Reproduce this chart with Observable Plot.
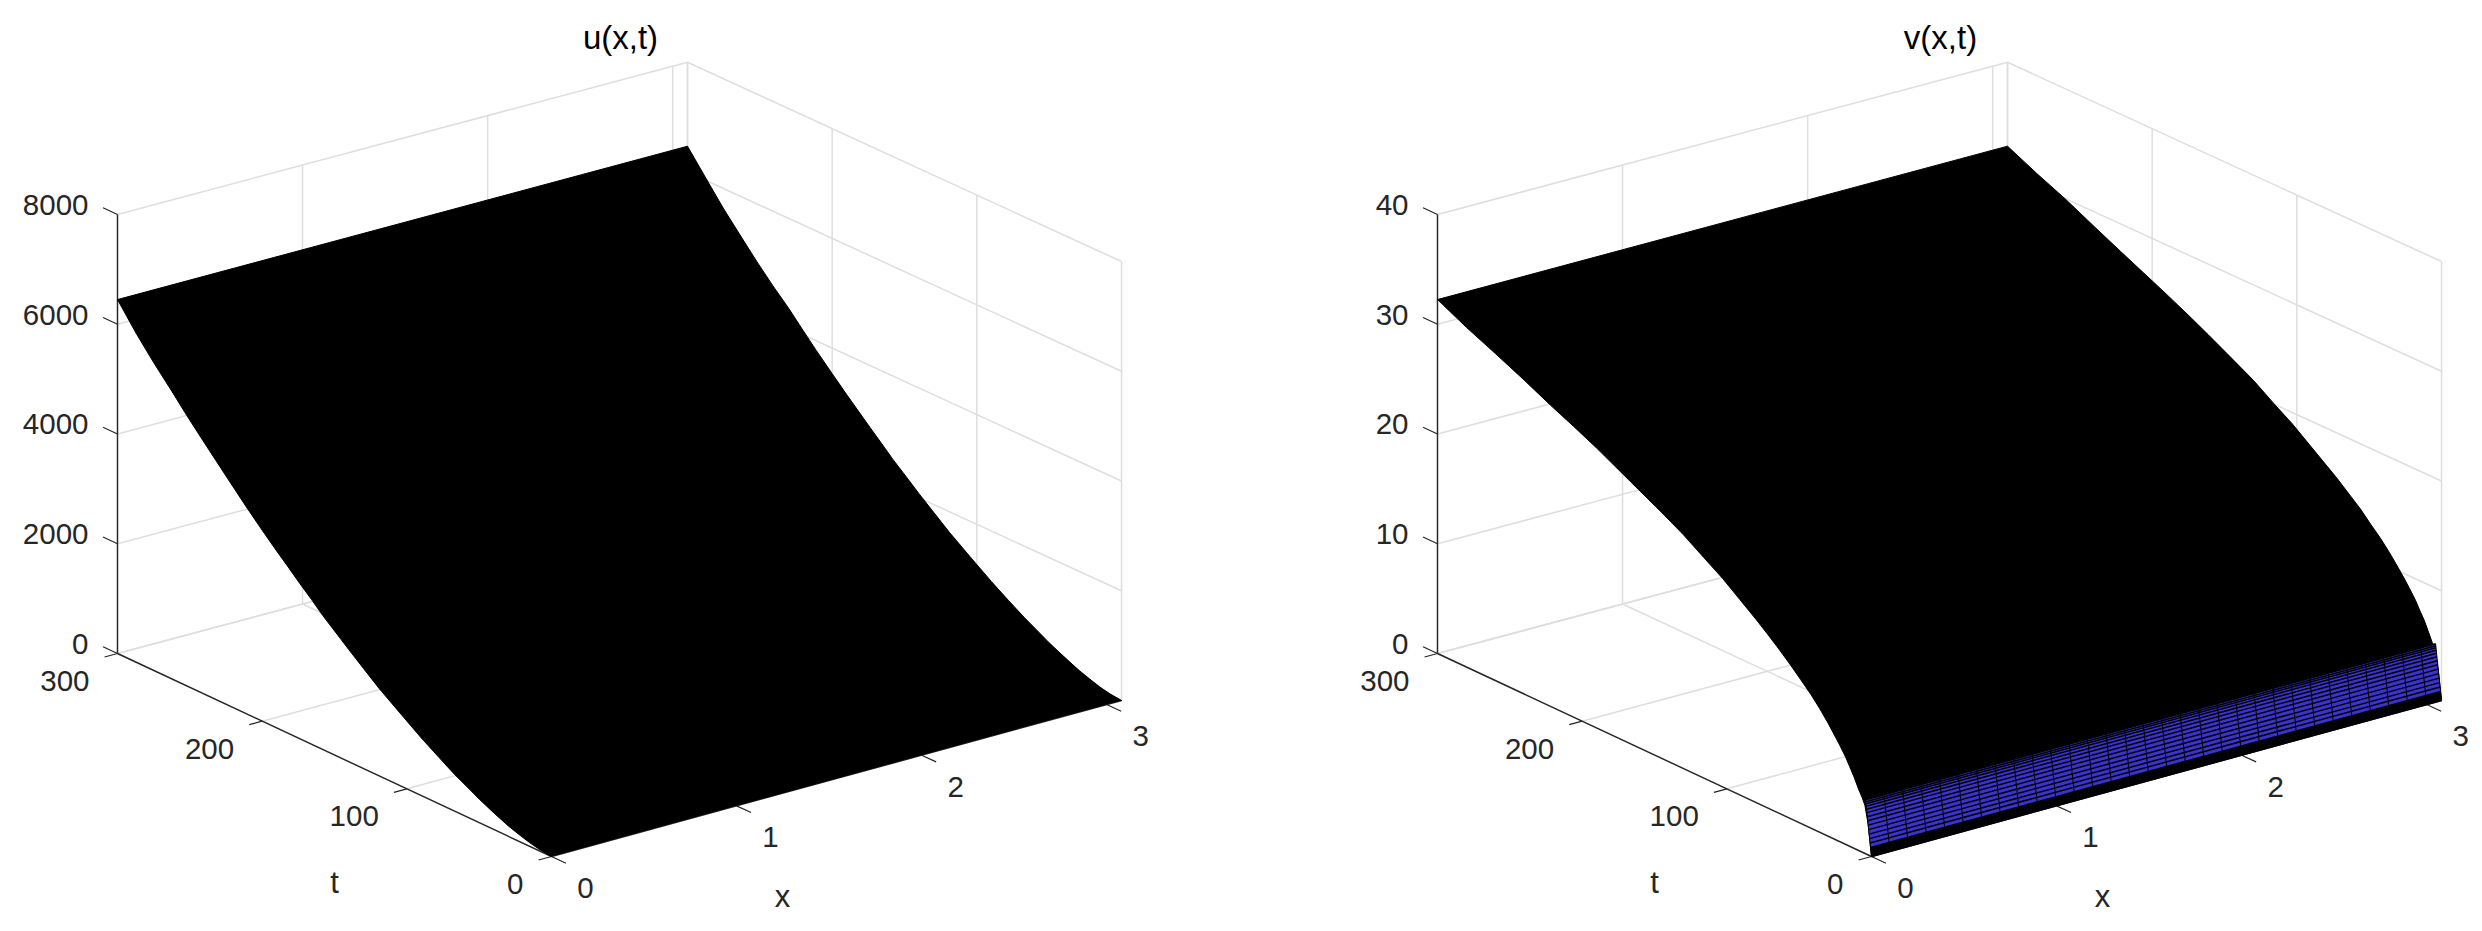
<!DOCTYPE html>
<html>
<head>
<meta charset="utf-8">
<script src="https://cdn.jsdelivr.net/npm/d3@7"></script>
<script src="https://cdn.jsdelivr.net/npm/@observablehq/plot@0.6"></script>
<style>html,body{margin:0;padding:0;background:#fff;overflow:hidden}svg{display:block}</style>
</head>
<body>
<div id="chart"></div>
<script>
// --- values ---
const titles = ["u(x,t)", "v(x,t)"];
const xTicks = [0, 1, 2, 3];
const tTicks = [0, 100, 200, 300];
const uTicks = [0, 2000, 4000, 6000, 8000];
const vTicks = [0, 10, 20, 30, 40];
const xMax = 3.08, tMax = 300, uMax = 8000, vMax = 40;

// u along the edge x = 0 and along the far edge x = xMax
const uTimes = [0, 8, 15, 22, 30, 40, 50, 58, 67, 78, 90, 104, 119, 130, 140, 149, 158, 166, 174, 182, 190, 200, 211, 220, 230, 241, 252, 263, 275, 287, 300];
const uAtX0 = [0, 25, 65, 120, 190, 305, 430, 545, 670, 850, 1050, 1310, 1590, 1825, 2040, 2240, 2440, 2640, 2830, 3030, 3225, 3480, 3770, 4020, 4300, 4610, 4925, 5260, 5610, 5990, 6450];
const uAtXEnd = [0, 25, 65, 125, 200, 320, 445, 565, 695, 875, 1080, 1340, 1625, 1860, 2075, 2280, 2480, 2680, 2875, 3075, 3275, 3535, 3825, 4075, 4360, 4640, 4945, 5270, 5630, 6030, 6469];

// v along the same two edges
const vTimes = [0, 1.1, 2.3, 4.6, 6.4, 9, 12, 15, 18, 22, 26, 30, 36, 42, 49, 56, 64, 72, 80, 91, 103, 116, 130, 145, 161, 174, 190, 206, 222, 240, 260, 280, 300];
const vAtX0 = [0, 1.3, 2.77, 4.4, 4.95, 5.6, 6.48, 7.24, 7.98, 8.8, 9.55, 10.3, 11.3, 12.2, 13.1, 14, 14.95, 15.85, 16.7, 17.8, 19, 20.1, 21.3, 22.4, 23.5, 24.4, 25.5, 26.5, 27.45, 28.6, 29.8, 30.95, 32.25];
const vAtXEnd = [0, 1.3, 2.7, 4.3, 4.9, 5.7, 6.6, 7.3, 8.05, 8.85, 9.6, 10.3, 11.3, 12.2, 13.1, 14.05, 14.95, 15.85, 16.65, 17.75, 18.95, 20.05, 21.3, 22.4, 23.55, 24.45, 25.5, 26.5, 27.5, 28.65, 29.95, 31.1, 32.35];

// mesh rows of the v surface that can be told apart near t = 0
const meshT = [0, 0.07, 0.14, 0.22, 0.29, 0.36, 0.43, 0.5, 0.58, 0.65, 0.97, 1.3, 1.62, 1.94, 2.27, 2.6, 2.88, 3.17, 3.42, 3.64, 3.82, 3.96, 4.1];
const meshV = [0, 0.09, 0.17, 0.26, 0.34, 0.43, 0.52, 0.6, 0.69, 0.78, 1.17, 1.55, 1.94, 2.33, 2.72, 3.1, 3.45, 3.8, 4.1, 4.36, 4.57, 4.75, 4.92];
const meshX = [0, 0.1, 0.2, 0.3, 0.4, 0.5, 0.6, 0.7, 0.8, 0.9, 1, 1.1, 1.2, 1.3, 1.4, 1.5, 1.6, 1.7, 1.8, 1.9, 2, 2.1, 2.2, 2.3, 2.4, 2.5, 2.6, 2.7, 2.8, 2.9, 3, 3.08];

// --- 3-D view, used only to turn (x, t, z) into the plot's position channels ---
const panelShift = [0, 1320];
const view = {left: 551, top: 856, xX: 570, tX: -434, xY: -156, tY: -203, zY: -439, xtY: 3.7};
const px = (p, x, t) => view.left + panelShift[p] + (x / xMax) * view.xX + (t / tMax) * view.tX;
const py = (x, t, zf) => view.top + (x / xMax) * view.xY + (t / tMax) * view.tY + (x / xMax) * (t / tMax) * view.xtY + zf * view.zY;

const GRID = "#dedede", INK = "#262626", FACE = "#3a33cf";
const grid = [], axes = [], ticks = [], zLabels = [], tLabels = [], xLabels = [], rows = [], cols = [], heads = [], names = [];
const seg = (arr, p, a, b) => arr.push({x1: px(p, a[0], a[1]), y1: py(a[0], a[1], a[2]), x2: px(p, b[0], b[1]), y2: py(b[0], b[1], b[2])});

[[uTicks, uMax], [vTicks, vMax]].forEach(([zTicks, zMax], p) => {
  const zTop = zTicks[zTicks.length - 1];
  // back walls and floor
  for (const z of zTicks) {
    const f = z / zMax;
    seg(grid, p, [0, tMax, f], [xMax, tMax, f]);
    seg(grid, p, [xMax, tMax, f], [xMax, 0, f]);
  }
  for (const x of xTicks) {
    seg(grid, p, [x, tMax, 0], [x, tMax, zTop / zMax]);
    seg(grid, p, [x, 0, 0], [x, tMax, 0]);
  }
  seg(grid, p, [xMax, tMax, 0], [xMax, tMax, zTop / zMax]);
  for (const t of tTicks) {
    seg(grid, p, [xMax, t, 0], [xMax, t, zTop / zMax]);
    seg(grid, p, [0, t, 0], [xMax, t, 0]);
  }
  // axes and ticks
  seg(axes, p, [0, tMax, 0], [0, tMax, zTop / zMax]);
  seg(axes, p, [0, tMax, 0], [0, 0, 0]);
  seg(axes, p, [0, 0, 0], [xMax, 0, 0]);
  for (const z of zTicks) {
    seg(ticks, p, [0, tMax, z / zMax], [0, tMax + 10, z / zMax]);
    zLabels.push({x: px(p, 0, tMax), y: py(0, tMax, z / zMax), s: String(z)});
  }
  for (const t of tTicks) {
    seg(ticks, p, [0, t, 0], [-0.07, t, 0]);
    tLabels.push({x: px(p, 0, t), y: py(0, t, 0), s: String(t)});
  }
  for (const x of xTicks) {
    seg(ticks, p, [x, 0, 0], [x, -10, 0]);
    xLabels.push({x: px(p, x, 0), y: py(x, 0, 0), s: String(x)});
  }
  names.push({x: px(p, 0, 0) - 217, y: py(0, 0, 0) + 27, s: "t"});
  names.push({x: px(p, 0, 0) + 231, y: py(0, 0, 0) + 41, s: "x"});
  heads.push({x: px(p, 0, 0) + 69, y: 38, s: titles[p]});
});

// silhouettes
const outline = (p, times, at0, atEnd, zMax) => [
  ...times.map((t, i) => ({x: px(p, 0, t), y: py(0, t, at0[i] / zMax), p})),
  ...times.map((t, i) => ({x: px(p, xMax, t), y: py(xMax, t, atEnd[i] / zMax), p})).reverse()
];
const outlines = [...outline(0, uTimes, uAtX0, uAtXEnd, uMax), ...outline(1, vTimes, vAtX0, vAtXEnd, vMax)];

// v mesh near t = 0
const last = meshT.length - 1;
const faceBand = [
  ...meshT.map((t, i) => ({x: px(1, 0, t), y: py(0, t, meshV[i] / vMax)})),
  ...meshT.map((t, i) => ({x: px(1, xMax, t), y: py(xMax, t, meshV[i] / vMax)})).reverse()
];
meshT.forEach((t, i) => seg(rows, 1, [0, t, meshV[i] / vMax], [xMax, t, meshV[i] / vMax]));
meshX.forEach(x => seg(cols, 1, [x, meshT[0], meshV[0] / vMax], [x, meshT[last], meshV[last] / vMax]));

const plot = Plot.plot({
  width: 2482, height: 931, margin: 0,
  x: {domain: [0, 2482], range: [0, 2482], axis: null},
  y: {domain: [0, 931], range: [0, 931], axis: null},
  style: {fontFamily: "'Liberation Sans', Arial, sans-serif", background: "#fff"},
  marks: [
    Plot.link(grid, {x1: "x1", y1: "y1", x2: "x2", y2: "y2", stroke: GRID, strokeWidth: 1.5}),
    Plot.link(axes, {x1: "x1", y1: "y1", x2: "x2", y2: "y2", stroke: INK, strokeWidth: 1.4}),
    Plot.link(ticks, {x1: "x1", y1: "y1", x2: "x2", y2: "y2", stroke: INK, strokeWidth: 1.2}),
    Plot.line(outlines, {x: "x", y: "y", z: "p", fill: "#000", stroke: "#000", strokeWidth: 1}),
    Plot.line(faceBand, {x: "x", y: "y", fill: FACE, stroke: "none"}),
    Plot.link(rows, {x1: "x1", y1: "y1", x2: "x2", y2: "y2", stroke: "#000", strokeWidth: 1.5}),
    Plot.link(cols, {x1: "x1", y1: "y1", x2: "x2", y2: "y2", stroke: "#000", strokeWidth: 1}),
    Plot.text(zLabels, {x: "x", y: "y", text: "s", dx: -29, dy: -9, textAnchor: "end", fontSize: 29.5, fill: INK}),
    Plot.text(tLabels, {x: "x", y: "y", text: "s", dx: -28, dy: 28, textAnchor: "end", fontSize: 29.5, fill: INK}),
    Plot.text(xLabels, {x: "x", y: "y", text: "s", dx: 34, dy: 32, fontSize: 29.5, fill: INK}),
    Plot.text(names, {x: "x", y: "y", text: "s", fontSize: 31, fill: INK}),
    Plot.text(heads, {x: "x", y: "y", text: "s", fontSize: 33, fill: "#000"})
  ]
});
document.getElementById("chart").appendChild(plot);
</script>
</body>
</html>
